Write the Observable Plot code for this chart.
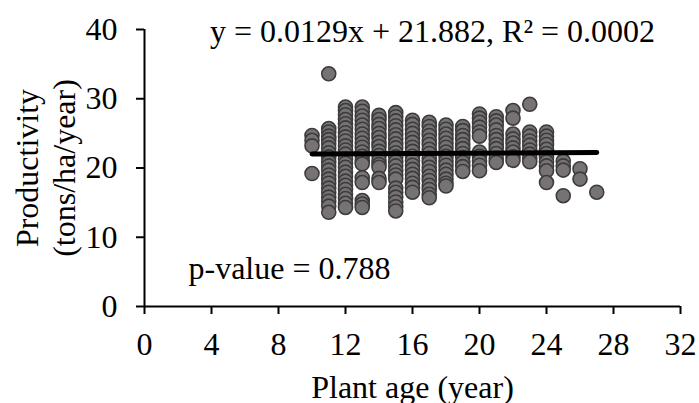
<!DOCTYPE html>
<html>
<head>
<meta charset="utf-8">
<script src="https://cdn.jsdelivr.net/npm/d3@7"></script>
<script src="https://cdn.jsdelivr.net/npm/@observablehq/plot@0.6"></script>
<style>
  html, body { margin: 0; padding: 0; background: #fff; }
  #chart svg { display: block; }
</style>
</head>
<body>
<div id="chart"></div>
<script>
// ---- data ----
const xTicks = [0, 4, 8, 12, 16, 20, 24, 28, 32];
const yTicks = [0, 10, 20, 30, 40];

const ages = [10, 11, 12, 13, 14, 15, 16, 17, 18, 19, 20, 21, 22, 23, 24, 25, 26, 27];
const productivityByAge = [
  [24.7, 24.0, 23.2, 19.2],
  [33.6, 25.7, 25.2, 24.6, 24.1, 23.5, 22.9, 22.2, 21.6, 20.9, 20.3, 19.7, 19.0, 18.4, 17.8, 17.1, 16.5, 15.8, 15.2, 14.5, 13.6],
  [28.8, 28.3, 27.7, 27.0, 26.4, 25.8, 25.1, 24.5, 23.9, 23.2, 22.6, 22.0, 21.3, 20.7, 20.1, 19.4, 18.8, 18.1, 17.5, 16.9, 16.2, 15.6, 14.9, 14.3],
  [28.8, 28.2, 27.5, 26.9, 26.2, 25.6, 24.9, 24.3, 23.6, 23.0, 22.3, 21.7, 21.0, 20.6, 18.6, 17.9, 15.3, 14.8, 14.3],
  [27.6, 27.0, 26.3, 25.7, 25.0, 24.4, 23.7, 23.1, 22.4, 21.8, 21.1, 20.5, 20.1, 18.5, 17.9],
  [28.0, 27.4, 26.8, 26.1, 25.5, 24.8, 24.2, 23.5, 22.9, 22.2, 21.6, 20.9, 20.3, 19.6, 19.0, 18.4, 17.1, 16.5, 15.8, 15.1, 14.4, 13.8],
  [26.9, 26.3, 25.6, 25.0, 24.3, 23.7, 23.0, 22.4, 21.7, 21.1, 20.4, 19.8, 19.1, 18.5, 17.8, 17.2, 16.5],
  [26.6, 26.0, 25.3, 24.7, 24.0, 23.4, 22.7, 22.1, 21.4, 20.8, 20.1, 19.5, 18.8, 18.2, 17.5, 16.9, 16.2, 15.7],
  [26.2, 25.6, 24.9, 24.3, 23.6, 23.0, 22.3, 21.7, 21.0, 20.4, 19.7, 19.1, 18.4, 17.8, 17.4],
  [26.0, 25.4, 24.7, 24.1, 23.4, 22.8, 22.1, 21.5, 20.8, 20.2, 19.5],
  [27.8, 27.2, 26.6, 25.9, 25.2, 24.6, 22.3, 21.7, 21.0, 20.4, 19.6],
  [27.4, 26.8, 26.2, 25.5, 24.7, 24.1, 23.4, 22.8, 22.1, 21.4, 20.8],
  [28.3, 27.2, 24.9, 24.2, 23.6, 22.9, 22.3, 21.6, 21.1],
  [29.2, 25.2, 24.6, 23.9, 23.3, 22.6, 22.0, 21.4, 20.9],
  [25.2, 24.6, 24.0, 23.4, 22.7, 22.1, 21.5, 20.9, 20.3, 19.6, 17.9],
  [21.0, 20.3, 19.7, 16.0],
  [19.9, 18.4],
  [16.5]
];

const slope = 0.0129;
const intercept = 21.882;
const equationText = "y = 0.0129x + 21.882, R² = 0.0002";
const pValueText = "p-value = 0.788";
const xLabel = "Plant age (year)";
const yLabel = "Productivity\n(tons/ha/year)";

// ---- build tables ----
const points = [];
ages.forEach((a, i) => productivityByAge[i].forEach(v => points.push({age: a, productivity: v})));
const [xMin, xMax] = d3.extent(points, d => d.age);
const trend = [xMin, xMax].map(x => ({age: x, productivity: slope * x + intercept}));

const font = "Liberation Serif, Times New Roman, serif";
const fs = 32;

const chart = Plot.plot({
  width: 699,
  height: 403,
  marginLeft: 144,
  marginRight: 19,
  marginTop: 29,
  marginBottom: 97,
  style: {fontFamily: font, fontSize: fs + "px", color: "#000", background: "#fff"},
  x: {domain: [0, 32]},
  y: {domain: [0, 40]},
  marks: [
    Plot.axisX({ticks: xTicks, tickSize: 8, tickPadding: 18, strokeWidth: 2, label: null, fontSize: fs}),
    Plot.axisY({ticks: yTicks, tickSize: 8, tickPadding: 19, strokeWidth: 2, label: null, fontSize: fs}),
    Plot.dot(points, {x: "age", y: "productivity", r: 7, fill: "#787373", stroke: "#3c3c3c", strokeWidth: 1.6}),
    Plot.line(trend, {x: "age", y: "productivity", stroke: "#000", strokeWidth: 5, strokeLinecap: "round"}),
    Plot.ruleY([0], {stroke: "#000", strokeWidth: 2}),
    Plot.ruleX([0], {stroke: "#000", strokeWidth: 2}),
    Plot.text([equationText], {frameAnchor: "top", textAnchor: "middle", dx: 20, dy: 12, lineAnchor: "bottom", fontSize: fs, fill: "#000"}),
    Plot.text([pValueText], {frameAnchor: "bottom-left", textAnchor: "start", dx: 44, dy: -28, lineAnchor: "bottom", fontSize: fs, fill: "#000"}),
    Plot.text([xLabel], {frameAnchor: "bottom", textAnchor: "middle", dy: 91, lineAnchor: "bottom", fontSize: fs, fill: "#000"}),
    Plot.text([yLabel], {frameAnchor: "left", textAnchor: "middle", dx: -100, rotate: -90, lineAnchor: "middle", lineHeight: 1.16, fontSize: fs, fill: "#000"})
  ]
});
document.getElementById("chart").appendChild(chart);
</script>
</body>
</html>
